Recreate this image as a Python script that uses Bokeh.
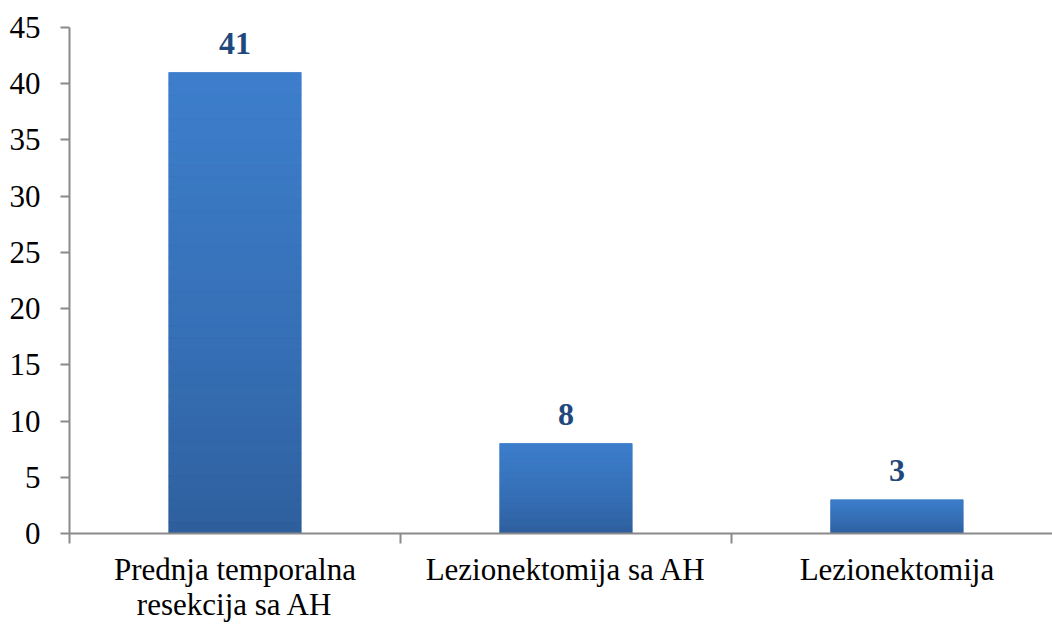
from bokeh.plotting import figure
from bokeh.models import Range1d, FixedTicker
from bokeh.core.properties import value
from bokeh.embed import file_html
from bokeh.resources import INLINE

categories = ["Prednja temporalna\nresekcija sa AH", "Lezionektomija sa AH", "Lezionektomija"]
values = [41, 8, 3]
y_ticks = [0, 5, 10, 15, 20, 25, 30, 35, 40, 45]

FONT = "'Liberation Serif', 'Times New Roman', serif"
AXIS_COLOR = "#8a8a8a"
TOP_RGB = (61, 126, 204)
BOT_RGB = (45, 93, 154)
N_BANDS = 40

p = figure(width=1052, height=624, output_backend="svg", toolbar_location=None,
           x_range=Range1d(0, 2.97), y_range=Range1d(0, 45),
           min_border_left=69, min_border_top=27, min_border_bottom=91, min_border_right=0)
p.outline_line_color = None
p.grid.visible = False
p.background_fill_color = "white"

xs = [i + 0.5 for i in range(len(categories))]
bw = 0.40

# base bars (mid colour) under gradient bands
mid = "#%02x%02x%02x" % tuple((TOP_RGB[j] + BOT_RGB[j]) // 2 for j in range(3))
p.vbar(x=xs, top=values, width=bw, bottom=0, fill_color=mid, line_color=None)

# gradient bars built as stacked bands of each bar's own value
for x, v in zip(xs, values):
    for k in range(N_BANDS):
        f = (k + 0.5) / N_BANDS  # 0 bottom .. 1 top
        t = f ** 0.7
        rgb = tuple(int(round(BOT_RGB[j] + (TOP_RGB[j] - BOT_RGB[j]) * t)) for j in range(3))
        c = "#%02x%02x%02x" % rgb
        p.quad(left=x - bw / 2, right=x + bw / 2, bottom=v * k / N_BANDS, top=v * (k + 1) / N_BANDS,
               fill_color=c, line_color=c, line_width=0.6)

p.text(x=xs, y=values, text=[str(v) for v in values], text_align="center", text_baseline="alphabetic",
       y_offset=-29, text_font=value(FONT), text_font_style="bold", text_font_size="32px",
       text_color="#1f497d")

# y axis
ya = p.yaxis[0]
ya.ticker = FixedTicker(ticks=y_ticks, minor_ticks=[])
ya.axis_line_color = AXIS_COLOR
ya.axis_line_width = 2
ya.major_tick_line_color = AXIS_COLOR
ya.major_tick_line_width = 2
ya.major_tick_out = 9
ya.major_tick_in = 0
ya.minor_tick_line_color = None
ya.major_label_text_font = FONT
ya.major_label_text_font_size = "31px"
ya.major_label_text_color = "black"
ya.major_label_standoff = 20

# x axis
xa = p.xaxis[0]
xa.ticker = FixedTicker(ticks=xs, minor_ticks=[0, 1, 2, 3])
xa.major_label_overrides = {x: c for x, c in zip(xs, categories)}
xa.axis_line_color = AXIS_COLOR
xa.axis_line_width = 2
xa.major_tick_line_color = None
xa.major_tick_out = 0
xa.major_tick_in = 0
xa.minor_tick_line_color = AXIS_COLOR
xa.minor_tick_line_width = 2
xa.minor_tick_out = 10
xa.minor_tick_in = 0
xa.major_label_text_font = FONT
xa.major_label_text_font_size = "31px"
xa.major_label_text_line_height = 1.0
xa.major_label_text_color = "black"
xa.major_label_standoff = 8

open("out.html", "w").write(file_html(p, INLINE))
